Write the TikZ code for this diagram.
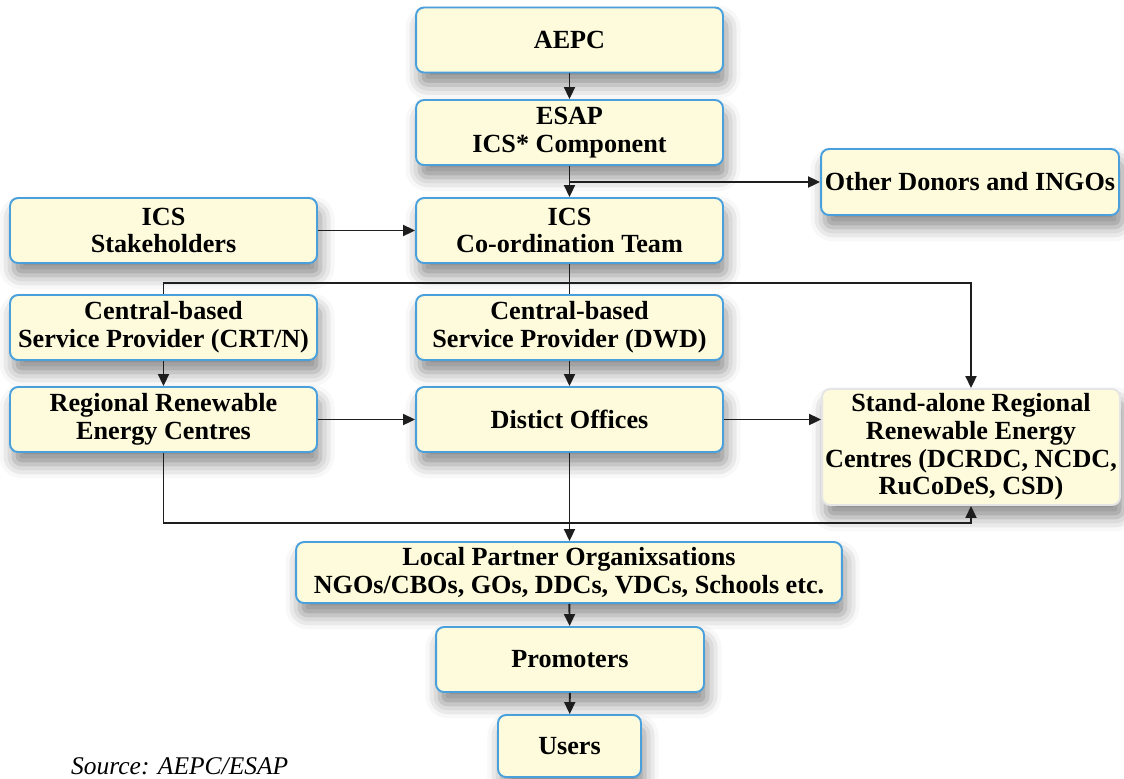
\documentclass[tikz,border=0pt]{standalone}
\usepackage{fontspec}
\setmainfont{Liberation Serif}
\definecolor{boxFill}{HTML}{FDFBDC}
\definecolor{boxEdge}{HTML}{4AA0DC}
\definecolor{lineDark}{HTML}{1E1E1E}
\usetikzlibrary{calc,arrows.meta,shadows.blur}

\begin{document}
\begin{tikzpicture}[x=0.02cm, y=-0.02cm,
  box/.style={rounded corners=0.16cm, fill=boxFill, draw=boxEdge, line width=1.1pt,
    text=black, align=center, inner sep=1pt, font=\fontsize{14.9}{15.8}\selectfont\bfseries,
    minimum width=6.14cm, minimum height=1.3cm,
    blur shadow={shadow xshift=2pt, shadow yshift=-7pt, shadow blur radius=8pt, shadow opacity=45}},
  arr/.style={-{Triangle[length=0.24cm, width=0.22cm]}, line width=1.1pt, draw=lineDark},
  link/.style={line width=1.1pt, draw=lineDark}
]
  \useasboundingbox (0,0) rectangle (1124,778);
  \node[box] (aepc) at (569.5,40) {AEPC};
  \node[box] (esap) at (569.5,132.5) {ESAP\\ICS* Component};
  \node[box] (coord) at (569.5,230.5) {ICS\\Co-ordination Team};
  \node[box] (stake) at (163.5,230.5) {ICS\\Stakeholders};
  \node[box, minimum width=5.96cm, minimum height=1.32cm] (donors) at (970,182) {Other Donors and INGOs};
  \node[box] (crtn) at (163.5,327.5) {Central-based\\Service Provider (CRT/N)};
  \node[box] (dwd) at (569.5,327.5) {Central-based\\Service Provider (DWD)};
  \node[box] (rrec) at (163.5,419.5) {Regional Renewable\\Energy Centres};
  \node[box] (district) at (569.5,419.5) {Distict Offices};
  \node[box, draw=black!10, minimum width=5.96cm, minimum height=2.32cm] (standalone) at (971,447)
    {Stand-alone Regional\\Renewable Energy\\Centres (DCRDC, NCDC,\\RuCoDeS, CSD)};
  \node[box, minimum width=10.92cm, minimum height=1.22cm] (local) at (569,572.5)
    {Local Partner Organixsations\\NGOs/CBOs, GOs, DDCs, VDCs, Schools etc.};
  \node[box, minimum width=5.36cm] (prom) at (570,659.5) {Promoters};
  \node[box, minimum width=2.86cm, minimum height=1.24cm] (users) at (569.5,746) {Users};
  \node[anchor=base west, font=\fontsize{14.5}{16}\selectfont\itshape] (source) at (65,774) {Source: AEPC/ESAP};

  \coordinate (hub) at ($(coord.south)+(0,19)$);
  \draw[arr] (aepc) -- (esap);
  \draw[arr] (esap) -- (coord);
  \draw[arr] (esap.south |- donors.west) -- (donors);
  \draw[arr] (stake) -- (coord);
  \draw[link] (coord) -- (dwd);
  \draw[arr] (crtn.north) |- (hub) -| (standalone.north);
  \draw[arr] (crtn) -- (rrec);
  \draw[arr] (dwd) -- (district);
  \draw[arr] (rrec) -- (district);
  \draw[arr] (district.east) -- (district.east -| standalone.west);
  \draw[arr] (district.south) -- (district.south |- local.north);
  \draw[arr] (rrec.south) -- ++(0,70) -| (standalone.south);
  \draw[arr] (local) -- (prom);
  \draw[arr] (prom) -- (users);
\end{tikzpicture}
\end{document}
